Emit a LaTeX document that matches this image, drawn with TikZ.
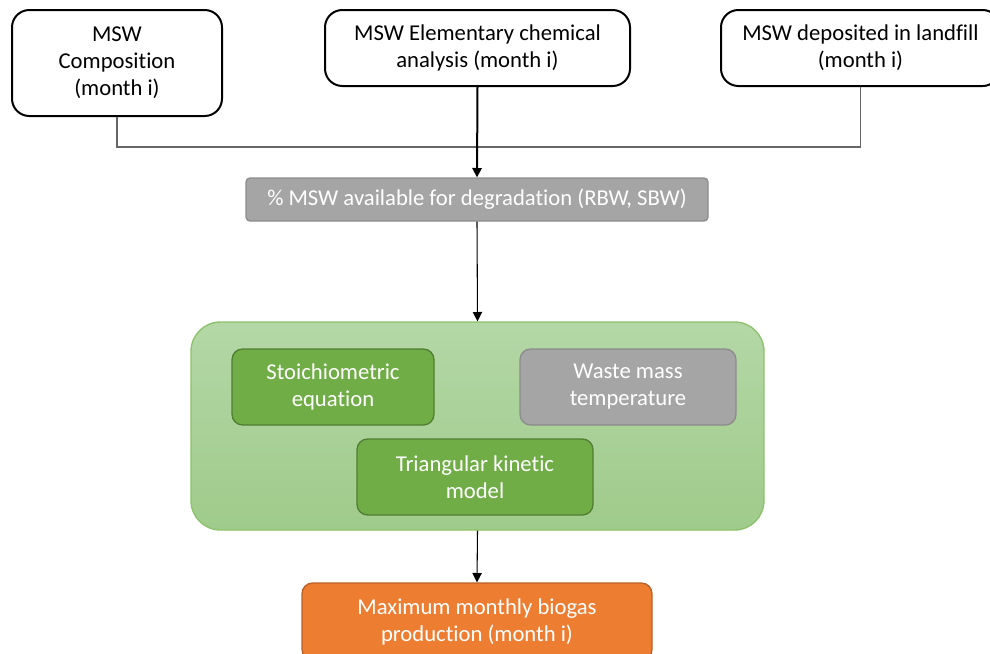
\documentclass[tikz,border=0pt]{standalone}
\usepackage{fontspec}
\setmainfont[Ligatures=NoCommon]{Carlito}
\usetikzlibrary{arrows.meta}

\definecolor{mswgray}{HTML}{A5A5A5}
\definecolor{mswgrayline}{HTML}{8C8C8C}
\definecolor{mswgreen}{HTML}{70AD47}
\definecolor{mswgreenline}{HTML}{507E32}
\definecolor{mswpaletop}{HTML}{B4D7A6}
\definecolor{mswpalebot}{HTML}{9FCB8B}
\definecolor{mswpaleline}{HTML}{8CC26C}
\definecolor{msworange}{HTML}{ED7D31}
\definecolor{msworangeline}{HTML}{B9612A}

\tikzset{
  txt/.style={font=\fontsize{17}{20.25}\selectfont, align=center, inner sep=0pt},
  inbox/.style={txt, draw=black, line width=1.5pt, fill=white, rounded corners=13pt},
  graybox/.style={txt, draw=mswgrayline, line width=1pt, fill=mswgray, text=white, rounded corners=3pt},
  greenbox/.style={txt, draw=mswgreenline, line width=1pt, fill=mswgreen, text=white, rounded corners=8pt},
  modelbox/.style={draw=mswpaleline, line width=1pt, top color=mswpaletop, bottom color=mswpalebot, rounded corners=22pt, inner sep=0pt},
  outbox/.style={txt, draw=msworangeline, line width=1pt, fill=msworange, text=white, rounded corners=8pt},
  link/.style={draw=black!60, line width=1pt},
  flow/.style={draw=black, line width=0.8pt, -{Triangle[length=7pt,width=7pt]}},
}

\begin{document}
\begin{tikzpicture}[x=0.75pt,y=-0.75pt]
\useasboundingbox (0,0) rectangle (990,654);

% inputs
\node[inbox, minimum width=157.5pt, minimum height=79.5pt] (comp) at (117,63) {MSW\\Composition\\(month i)};
\node[inbox, minimum width=228.75pt, minimum height=57pt] (chem) at (477.5,48) {MSW Elementary chemical\\analysis (month i)};
\node[inbox, minimum width=209.25pt, minimum height=57pt] (land) at (860.5,48) {MSW deposited in landfill\\(month i)};

\node[graybox, minimum width=346.5pt, minimum height=32.25pt] (avail) at (477,199.5) {\% MSW available for degradation (RBW, SBW)};

% model block
\node[modelbox, minimum width=429.75pt, minimum height=156pt] (model) at (477.5,426) {};
\node[greenbox, minimum width=151.5pt, minimum height=57pt] (stoich) at (333,387) {Stoichiometric\\equation};
\node[graybox, rounded corners=8pt, minimum width=162pt, minimum height=57pt] (temp) at (628,387) {Waste mass\\temperature};
\node[greenbox, minimum width=177pt, minimum height=57pt] (tri) at (475,477) {Triangular kinetic\\model};

\node[outbox, minimum width=262.5pt, minimum height=57.75pt] (biogas) at (477,621.5) {Maximum monthly biogas\\production (month i)};

% connectors
\coordinate (join) at (477,147);
\draw[link] (comp.south) |- (join) -| (land.south);
\draw[flow, line width=1.5pt] (chem.south) -- (avail.north);
\draw[flow] (avail.south) -- (model.north);
\draw[flow] (model.south) -- (biogas.north);
\end{tikzpicture}
\end{document}
